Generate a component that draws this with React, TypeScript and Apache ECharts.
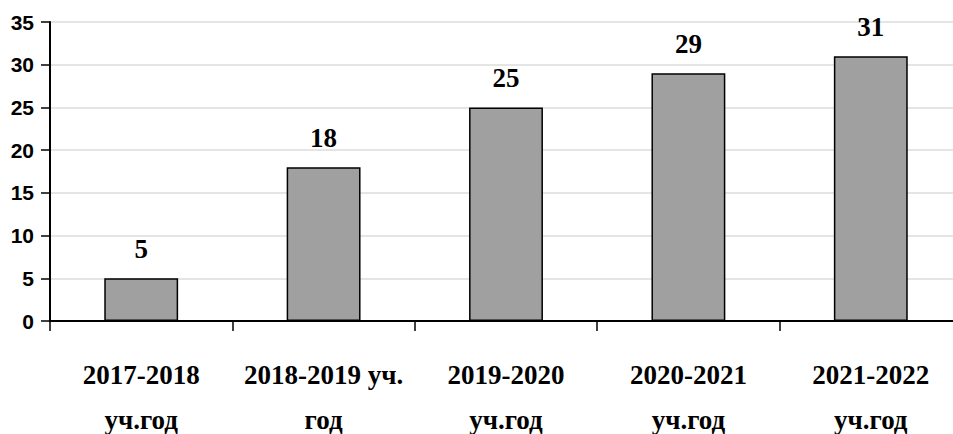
import React, { useEffect, useRef } from "react";
import * as echarts from "echarts";

const categories = [
  "2017-2018\nуч.год",
  "2018-2019 уч.\nгод",
  "2019-2020\nуч.год",
  "2020-2021\nуч.год",
  "2021-2022\nуч.год",
];
const values = [5, 18, 25, 29, 31];
const yMin = 0;
const yMax = 35;
const yInterval = 5;

export default function App() {
  const ref = useRef<HTMLDivElement>(null);
  useEffect(() => {
    if (!ref.current) return;
    const chart = echarts.init(ref.current, null, { renderer: "svg" });
    chart.setOption({
      animation: false,
      backgroundColor: "#ffffff",
      grid: {
        left: 50,
        top: 22,
        bottom: 113,
        right: -9,
        containLabel: false,
        outerBoundsMode: "none",
      },
      xAxis: {
        type: "category",
        data: categories,
        boundaryGap: true,
        axisLine: { lineStyle: { color: "#000", width: 2 } },
        axisTick: { show: true, length: 10, alignWithLabel: false, lineStyle: { color: "#000", width: 1.5 } },
        axisLabel: {
          margin: 31,
          interval: 0,
          color: "#000",
          fontFamily: "Liberation Serif",
          fontWeight: "bold",
          fontSize: 27,
          lineHeight: 45,
        },
      },
      yAxis: {
        type: "value",
        min: yMin,
        max: yMax,
        interval: yInterval,
        axisLine: { show: true, lineStyle: { color: "#000", width: 2 } },
        axisTick: { show: true, length: 9, lineStyle: { color: "#000", width: 1.5 } },
        splitLine: { show: true, lineStyle: { color: "#dcdcdc", width: 1.5 } },
        axisLabel: {
          margin: 16,
          color: "#000",
          fontFamily: "Liberation Sans",
          fontWeight: "bold",
          fontSize: 21,
        },
      },
      series: [
        {
          type: "bar",
          data: values,
          barWidth: "40.5%",
          itemStyle: { color: "#a0a0a0", borderColor: "#000", borderWidth: 1.5 },
          label: {
            show: true,
            position: "top",
            distance: 16,
            color: "#000",
            fontFamily: "Liberation Serif",
            fontWeight: "bold",
            fontSize: 27,
          },
        },
      ],
    });
    return () => chart.dispose();
  }, []);
  return <div ref={ref} style={{ width: 953, height: 434, position: "absolute", left: 0, top: 0 }} />;
}
